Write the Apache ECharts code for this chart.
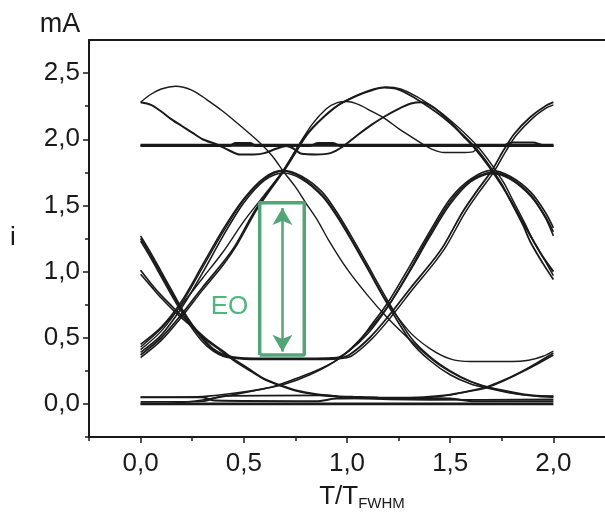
<!DOCTYPE html>
<html><head><meta charset="utf-8">
<script src="https://cdn.jsdelivr.net/npm/echarts@6/dist/echarts.min.js"></script>
<style>html,body{margin:0;padding:0;background:#fff}#c{width:605px;height:520px}</style>
</head><body><div id="c"></div>
<script>
// ---- axes ----
const xTicks = [0, 0.5, 1, 1.5, 2];
const xTickLabels = ['0,0', '0,5', '1,0', '1,5', '2,0'];
const xMinorTicks = [-0.25, 0.25, 0.75, 1.25, 1.75];
const yTicks = [0, 0.5, 1, 1.5, 2, 2.5];
const yTickLabels = ['0,0', '0,5', '1,0', '1,5', '2,0', '2,5'];
const yMinorTicks = [-0.25, 0.25, 0.75, 1.25, 1.75, 2.25];

// ---- eye-diagram traces (x = T/T_FWHM, y = i in mA) ----
const up1 = [[0,2.28],[0.05,2.34],[0.1,2.38],[0.17,2.40],[0.25,2.37],[0.32,2.30],[0.4,2.21],[0.5,2.08],[0.58,1.97],[0.64,1.87],[0.69,1.76],[0.75,1.64],[0.8,1.52],[0.86,1.38],[0.91,1.24],[1.0,1.02],[1.1,0.82],[1.19,0.66],[1.28,0.52],[1.37,0.39],[1.45,0.29],[1.55,0.2],[1.65,0.14],[1.75,0.1],[1.85,0.07],[2.0,0.055]];
const up2 = [[0,2.28],[0.05,2.26],[0.1,2.21],[0.15,2.15],[0.2,2.10],[0.25,2.05],[0.3,2.00],[0.37,1.96],[0.43,1.915],[0.48,1.885],[0.55,1.885],[0.6,1.895],[0.66,1.93],[0.72,1.95],[1.0,1.95],[1.4,1.95],[1.75,1.95],[1.8,1.975],[1.9,1.975],[1.95,1.955],[2.0,1.95]];
const up3 = [[0,0.43],[0.1,0.57],[0.2,0.75],[0.3,0.95],[0.4,1.15],[0.5,1.38],[0.6,1.58],[0.69,1.76],[0.76,1.94],[0.83,2.11],[0.9,2.23],[0.95,2.275],[1.0,2.285],[1.06,2.26],[1.12,2.21],[1.18,2.16],[1.25,2.08],[1.31,2.02],[1.37,1.96],[1.42,1.92],[1.47,1.90],[1.55,1.90],[1.61,1.905],[1.64,1.945],[1.7,1.95],[2.0,1.95]];
const up4 = [[0,1.95],[0.7,1.95],[0.74,1.93],[0.78,1.89],[0.85,1.885],[0.92,1.895],[0.98,1.945],[1.05,2.03],[1.12,2.11],[1.18,2.17],[1.25,2.23],[1.31,2.27],[1.36,2.28],[1.42,2.24],[1.5,2.13],[1.56,2.03],[1.62,1.93],[1.69,1.79],[1.75,1.65],[1.8,1.52],[1.86,1.35],[1.9,1.24],[1.95,1.11],[2.0,1.0]];
const sw1 = [[0,0.37],[0.1,0.50],[0.2,0.68],[0.3,0.88],[0.4,1.07],[0.46,1.20],[0.55,1.45],[0.62,1.61],[0.69,1.76],[0.75,1.91],[0.8,2.03],[0.88,2.16],[0.96,2.26],[1.05,2.33],[1.12,2.37],[1.18,2.39],[1.25,2.375],[1.33,2.31],[1.4,2.24],[1.47,2.16],[1.55,2.05],[1.62,1.94],[1.69,1.80],[1.75,1.66],[1.79,1.54],[1.85,1.36],[1.89,1.22],[1.95,1.06],[2.0,0.94]];
const sw1b = [[0,0.35],[0.1,0.48],[0.2,0.66],[0.3,0.86],[0.4,1.05],[0.47,1.21],[0.56,1.46],[0.63,1.62],[0.70,1.77],[0.76,1.92],[0.81,2.04],[0.89,2.17],[0.97,2.27],[1.06,2.34],[1.13,2.38],[1.19,2.395],[1.26,2.38],[1.34,2.32],[1.41,2.25],[1.48,2.17],[1.56,2.06],[1.63,1.95],[1.70,1.81],[1.76,1.67],[1.80,1.55],[1.86,1.37],[1.9,1.24],[1.96,1.08],[2.0,0.97]];
const sw2 = [[0,1.25],[0.05,1.12],[0.1,0.98],[0.15,0.84],[0.2,0.71],[0.25,0.59],[0.3,0.49],[0.35,0.41],[0.4,0.365],[0.45,0.35],[0.55,0.34],[0.7,0.34],[0.85,0.34],[0.95,0.345],[1.01,0.37],[1.11,0.50],[1.21,0.68],[1.31,0.88],[1.41,1.07],[1.47,1.20],[1.56,1.45],[1.63,1.61],[1.70,1.76],[1.76,1.92],[1.81,2.04],[1.89,2.17],[1.96,2.25],[2.0,2.28]];
const sw2b = [[0,1.23],[0.05,1.10],[0.1,0.96],[0.15,0.82],[0.2,0.69],[0.25,0.57],[0.3,0.47],[0.35,0.40],[0.4,0.36],[0.45,0.345],[0.55,0.335],[0.7,0.335],[0.85,0.335],[0.95,0.34],[1.02,0.36],[1.12,0.49],[1.22,0.67],[1.32,0.87],[1.42,1.06],[1.48,1.19],[1.57,1.44],[1.64,1.60],[1.71,1.75],[1.77,1.91],[1.82,2.03],[1.9,2.16],[1.97,2.24],[2.0,2.26]];
const c1a = [[0,0.41],[0.1,0.55],[0.2,0.76],[0.3,1.03],[0.4,1.30],[0.5,1.54],[0.6,1.70],[0.69,1.76],[0.78,1.71],[0.88,1.58],[0.95,1.43],[1.02,1.25],[1.1,1.03],[1.19,0.78],[1.3,0.55],[1.4,0.42],[1.5,0.34],[1.6,0.32],[1.7,0.32],[1.8,0.32],[1.88,0.33],[1.95,0.36],[2.0,0.40]];
const c1b = [[0,0.39],[0.1,0.52],[0.2,0.73],[0.3,0.99],[0.4,1.27],[0.5,1.52],[0.6,1.69],[0.69,1.745],[0.78,1.70],[0.88,1.57],[0.95,1.42],[1.02,1.24],[1.1,1.02],[1.19,0.77],[1.31,0.47],[1.4,0.33],[1.5,0.22],[1.6,0.15],[1.68,0.12],[1.8,0.08],[1.9,0.06],[2.0,0.05]];
const c1c = [[0,0.45],[0.1,0.58],[0.2,0.78],[0.3,1.05],[0.4,1.32],[0.5,1.55],[0.6,1.71],[0.69,1.765],[0.78,1.72],[0.88,1.60],[0.95,1.45],[1.02,1.27],[1.1,1.05],[1.19,0.80],[1.31,0.50],[1.4,0.36],[1.5,0.25],[1.6,0.17],[1.68,0.13],[1.8,0.09],[1.9,0.065],[2.0,0.06]];
const c2a = [[0,1.27],[0.05,1.14],[0.1,1.0],[0.15,0.86],[0.2,0.72],[0.25,0.6],[0.3,0.5],[0.35,0.42],[0.4,0.375],[0.45,0.355],[0.55,0.345],[0.7,0.345],[0.85,0.345],[0.95,0.35],[1.01,0.40],[1.1,0.53],[1.2,0.74],[1.3,1.0],[1.4,1.28],[1.5,1.53],[1.6,1.69],[1.70,1.75],[1.79,1.71],[1.89,1.58],[1.96,1.42],[2.0,1.30]];
const r1 = [[0,0.0],[0.15,0.005],[0.3,0.03],[0.45,0.07],[0.55,0.1],[0.64,0.13],[0.75,0.19],[0.85,0.25],[0.96,0.34],[1.05,0.46],[1.12,0.6],[1.2,0.77],[1.3,1.03],[1.4,1.30],[1.5,1.55],[1.6,1.70],[1.70,1.765],[1.79,1.72],[1.89,1.60],[1.96,1.45],[2.0,1.33]];
const c2b = [[0,0.05],[0.15,0.05],[0.3,0.055],[0.45,0.08],[0.58,0.11],[0.7,0.15],[0.82,0.22],[0.93,0.31],[1.02,0.42],[1.1,0.55],[1.2,0.74],[1.3,0.99],[1.4,1.26],[1.5,1.51],[1.6,1.68],[1.70,1.74],[1.79,1.70],[1.89,1.57],[1.96,1.41],[2.0,1.27]];
const d1 = [[0,1.01],[0.05,0.91],[0.1,0.82],[0.17,0.71],[0.25,0.59],[0.32,0.49],[0.39,0.41],[0.45,0.34],[0.52,0.27],[0.6,0.19],[0.68,0.14],[0.76,0.1],[0.85,0.075],[0.95,0.06],[1.03,0.055],[1.15,0.05],[1.3,0.048],[1.4,0.055],[1.5,0.07],[1.6,0.1],[1.68,0.13],[1.76,0.18],[1.84,0.24],[1.92,0.31],[2.0,0.385]];
const d1b = [[0,0.98],[0.05,0.89],[0.1,0.80],[0.17,0.69],[0.25,0.58],[0.32,0.48],[0.39,0.40],[0.45,0.33],[0.52,0.26],[0.6,0.185],[0.68,0.135],[0.76,0.095],[0.85,0.07],[0.95,0.055],[1.05,0.05],[1.2,0.045],[1.31,0.04],[1.4,0.05],[1.5,0.068],[1.6,0.097],[1.68,0.125],[1.76,0.175],[1.84,0.235],[1.92,0.3],[2.0,0.37]];
const flat1 = [[0,1.95],[0.43,1.95],[0.46,1.97],[0.53,1.97],[0.56,1.95],[0.82,1.95],[0.86,1.97],[0.93,1.97],[0.97,1.95],[2.0,1.95]];
const flat2 = [[0,1.957],[2.0,1.957]];
const bot0 = [[0,0.0],[2.0,0.0]];
const bot1 = [[0,0.05],[0.3,0.05],[0.36,0.025],[0.85,0.02],[0.95,0.04],[1.3,0.045],[1.5,0.04],[1.62,0.02],[2.0,0.02]];
const bot2 = [[0,0.015],[0.3,0.02],[0.4,0.06],[0.9,0.065],[1.0,0.045],[1.4,0.03],[2.0,0.035]];

// ---- EO annotation (data coordinates) ----
const eoBox = [[0.577,0.37],[0.793,0.37],[0.793,1.52],[0.577,1.52],[0.577,0.37]];
const eoArrow = [[0.687,0.395],[0.687,1.48]];
const eoLabelPos = [0.431,0.735];

const ink = '#1a1a1a';
const green = '#52a577';
const font = '"Liberation Sans", Arial, sans-serif';

function trace(data, w) {
  return { type: 'line', data: data, showSymbol: false, smooth: 0.3, silent: true,
    xAxisIndex: 0, yAxisIndex: 0, lineStyle: { color: ink, width: w || 1.5 }, z: 2 };
}
function lbl(vals, labs) {
  return function (v) {
    for (let i = 0; i < vals.length; i++) if (Math.abs(vals[i] - v) < 1e-6) return labs[i];
    return '';
  };
}

const chart = echarts.init(document.getElementById('c'), null, { renderer: 'canvas' });
chart.setOption({
  animation: false,
  backgroundColor: '#fff',
  grid: { left: 89, top: 40, width: 522, height: 397, containLabel: false },
  xAxis: [
    { type: 'value', min: -0.25, max: 2.25, position: 'bottom',
      axisLine: { show: true, onZero: false, lineStyle: { color: ink, width: 2 } },
      axisTick: { show: true, customValues: xTicks, length: 6, lineStyle: { color: ink, width: 1.5 } },
      axisLabel: { show: true, customValues: xTicks, formatter: lbl(xTicks, xTickLabels), margin: 14,
        color: ink, fontSize: 26, fontFamily: font },
      splitLine: { show: false } },
    { type: 'value', min: -0.25, max: 2.25, position: 'bottom', offset: 0,
      axisLine: { show: false, onZero: false },
      axisTick: { show: true, customValues: xMinorTicks, length: 4, lineStyle: { color: ink, width: 1.5 } },
      axisLabel: { show: false }, splitLine: { show: false } },
    { type: 'value', min: -0.25, max: 2.25, position: 'top',
      axisLine: { show: true, onZero: false, lineStyle: { color: ink, width: 2 } },
      axisTick: { show: false }, axisLabel: { show: false }, splitLine: { show: false } }
  ],
  yAxis: [
    { type: 'value', min: -0.25, max: 2.75, position: 'left',
      axisLine: { show: true, onZero: false, lineStyle: { color: ink, width: 2 } },
      axisTick: { show: true, customValues: yTicks, length: 6, lineStyle: { color: ink, width: 1.5 } },
      axisLabel: { show: true, customValues: yTicks, formatter: lbl(yTicks, yTickLabels), margin: 9,
        color: ink, fontSize: 26, fontFamily: font },
      splitLine: { show: false } },
    { type: 'value', min: -0.25, max: 2.75, position: 'left', offset: 0,
      axisLine: { show: false, onZero: false },
      axisTick: { show: true, customValues: yMinorTicks, length: 4, lineStyle: { color: ink, width: 1.5 } },
      axisLabel: { show: false }, splitLine: { show: false } }
  ],
  graphic: [
    { type: 'text', x: 60, y: 25, style: { text: 'mA', font: '27px ' + font, fill: ink, textAlign: 'center', textVerticalAlign: 'middle' } },
    { type: 'text', x: 13, y: 238, style: { text: 'i', font: '26px ' + font, fill: ink, textAlign: 'center', textVerticalAlign: 'middle' } },
    { type: 'text', x: 362, y: 497, style: {
        text: '{a|T/T}{b|FWHM}', textAlign: 'center', textVerticalAlign: 'middle',
        rich: { a: { fontSize: 26, fontFamily: font, fill: ink, color: ink },
                b: { fontSize: 15, fontFamily: font, fill: ink, color: ink, padding: [14, 0, 0, 0] } } } }
  ],
  series: [
    trace(flat1, 2.2), trace(flat2, 2.2), trace(up2, 2), trace(up1, 1.4), trace(up3, 1.4), trace(up4, 2),
    trace(sw1, 1.8), trace(sw1b, 1.5), trace(sw2, 1.8), trace(sw2b, 1.5),
    trace(c1a, 1.4), trace(c1b, 1.6), trace(c1c, 1.6),
    trace(c2a, 1.6), trace(r1, 1.6), trace(c2b, 1.6),
    trace(d1, 1.7), trace(d1b, 1.6),
    trace(bot0, 2.6), trace(bot1, 2), trace(bot2, 1.7),
    { type: 'line', data: eoBox, showSymbol: false, silent: true, z: 5,
      lineStyle: { color: green, width: 3.5 },
      markLine: { silent: true, symbol: ['arrow', 'arrow'], symbolSize: [15, 17], label: { show: false },
        lineStyle: { color: green, width: 2.5, type: 'solid' },
        data: [[{ coord: eoArrow[0] }, { coord: eoArrow[1] }]] } },
    { type: 'scatter', data: [eoLabelPos], symbolSize: 0, silent: true, z: 6,
      label: { show: true, position: 'inside', formatter: 'EO', color: '#22a25a', fontSize: 26, fontFamily: font } }
  ]
});
</script></body></html>
